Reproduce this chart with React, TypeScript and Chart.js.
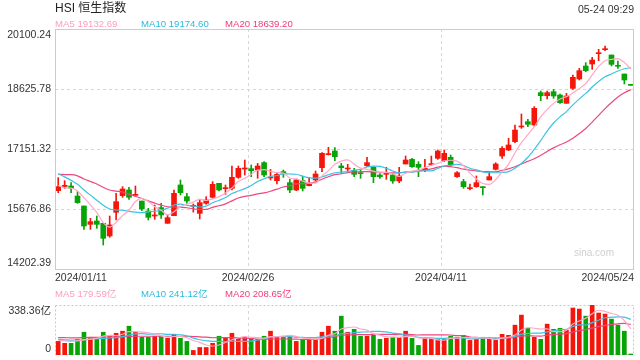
import React, { useEffect, useRef } from "react";
import { Chart, registerables } from "chart.js";
Chart.register(...registerables);

const dates = [
  "2024/01/11","2024/01/12","2024/01/15","2024/01/16","2024/01/17","2024/01/18","2024/01/19","2024/01/22","2024/01/23","2024/01/24",
  "2024/01/25","2024/01/26","2024/01/29","2024/01/30","2024/01/31","2024/02/01","2024/02/02","2024/02/05","2024/02/06","2024/02/07",
  "2024/02/08","2024/02/09","2024/02/14","2024/02/15","2024/02/16","2024/02/19","2024/02/20","2024/02/21","2024/02/22","2024/02/23",
  "2024/02/26","2024/02/27","2024/02/28","2024/02/29","2024/03/01","2024/03/04","2024/03/05","2024/03/06","2024/03/07","2024/03/08",
  "2024/03/11","2024/03/12","2024/03/13","2024/03/14","2024/03/15","2024/03/18","2024/03/19","2024/03/20","2024/03/21","2024/03/22",
  "2024/03/25","2024/03/26","2024/03/27","2024/03/28","2024/04/02","2024/04/03","2024/04/05","2024/04/08","2024/04/09","2024/04/10",
  "2024/04/11","2024/04/12","2024/04/15","2024/04/16","2024/04/17","2024/04/18","2024/04/19","2024/04/22","2024/04/23","2024/04/24",
  "2024/04/25","2024/04/26","2024/04/29","2024/04/30","2024/05/02","2024/05/03","2024/05/06","2024/05/07","2024/05/08","2024/05/09",
  "2024/05/10","2024/05/13","2024/05/14","2024/05/16","2024/05/17","2024/05/20","2024/05/21","2024/05/22","2024/05/23","2024/05/24"
];

const opens = [
  16127,16230,16242,15996,15751,15300,15382,15325,15014,15595,
  16005,16144,16013,15873,15628,15505,15710,15325,15513,16267,
  15980,15740,15570,15816,15964,16308,16177,16185,16455,16660,
  16668,16635,16816,16439,16373,16594,16324,16144,16373,16250,
  16390,16693,17012,17102,16734,16660,16619,16562,16742,16701,
  16512,16529,16512,16365,16783,16897,16775,16635,16766,16922,
  16865,16947,16472,16349,16177,16226,16218,16390,16652,16979,
  17127,17332,17692,17823,17741,18536,18462,18560,18478,18274,
  18642,18872,19191,19240,19494,19592,19461,19199,18994,18724
];
const highs = [
  16447,16373,16324,16103,15751,15448,15505,15325,15505,16062,
  16226,16209,16242,15873,15693,15775,15816,15530,16144,16390,
  16062,15800,15898,15980,16349,16308,16267,16734,16734,16881,
  16758,16799,16840,16652,16553,16635,16406,16406,16488,16455,
  16611,17061,17192,17184,16799,16775,16676,16652,16947,16717,
  16570,16701,16553,16701,16979,16922,16840,16897,16979,17127,
  17127,17004,16594,16406,16291,16488,16226,16594,16815,17209,
  17414,17741,18012,17880,18192,18577,18577,18618,18503,18519,
  18970,19134,19273,19404,19601,19683,19461,19314,18994,18724
];
const lows = [
  16078,16185,16078,15816,15177,15177,15202,14792,14981,15407,
  15964,15915,15996,15636,15407,15423,15448,15325,15513,16021,
  15816,15600,15431,15792,15939,16119,16037,16144,16430,16512,
  16472,16431,16472,16390,16291,16455,16078,16127,16119,16242,
  16373,16594,17004,16865,16553,16619,16472,16431,16717,16324,
  16431,16406,16308,16324,16783,16701,16472,16594,16758,16897,
  16840,16717,16455,16185,16144,16209,16021,16390,16635,16922,
  17111,17307,17659,17700,17717,18339,18380,18396,18274,18274,
  18618,18847,19052,19109,19322,19568,19191,19134,18749,18716
];
const closes = [
  16226,16260,16185,15833,15259,15366,15300,14956,15284,15857,
  16168,15964,16029,15677,15472,15530,15530,15464,16062,16078,
  15873,15746,15833,15898,16283,16144,16193,16455,16676,16685,
  16619,16734,16512,16463,16529,16553,16144,16390,16185,16291,
  16537,17045,17037,16963,16693,16676,16529,16545,16816,16472,
  16472,16578,16365,16488,16881,16717,16701,16676,16791,17102,
  17045,16758,16570,16226,16193,16324,16201,16472,16783,17168,
  17250,17618,17717,17758,18151,18462,18536,18454,18290,18454,
  18913,19076,19076,19338,19511,19609,19232,19183,18847,18716
];
const ma5 = [
  16254.6,16199.6,16191.8,16120.4,15952.6,15780.6,15588.6,15342.8,15233,15352.6,
  15513,15645.8,15860.4,15939,15862,15734.4,15647.6,15534.6,15611.6,15732.8,
  15801.4,15844.6,15918.4,15885.6,15926.6,15980.8,16070.2,16194.6,16350.2,16430.6,
  16525.6,16633.8,16645.2,16602.6,16571.4,16558.2,16440.2,16415.8,16360.2,16312.6,
  16309.4,16489.6,16619,16774.6,16855,16882.8,16779.6,16681.2,16651.8,16607.6,
  16566.8,16576.6,16540.6,16475,16556.8,16605.8,16630.4,16692.6,16753.2,16797.4,
  16863,16874.4,16853.2,16740.2,16558.4,16414.2,16302.8,16283.2,16394.6,16589.6,
  16774.8,17058.2,17307.2,17502.2,17698.8,17941.2,18124.8,18272.2,18378.6,18439.2,
  18529.4,18637.4,18761.8,18971.4,19182.8,19322,19353.2,19374.6,19276.4,19117.4
];
const ma10 = [
  16544.3,16466,16379.8,16284.2,16145.5,16017.6,15894.1,15767.3,15676.7,15652.6,
  15646.8,15617.2,15601.6,15586,15607.3,15623.7,15646.7,15697.5,15775.3,15797.4,
  15767.9,15746.1,15726.5,15748.6,15829.7,15891.1,15957.4,16056.5,16117.9,16178.6,
  16253.2,16352,16419.9,16476.4,16501,16541.9,16537,16530.5,16481.4,16442,
  16433.8,16464.9,16517.4,16567.4,16583.8,16596.1,16634.6,16650.1,16713.2,16731.3,
  16724.8,16678.1,16610.9,16563.4,16582.2,16586.3,16603.5,16616.6,16614.1,16677.1,
  16734.4,16752.4,16772.9,16746.7,16677.9,16638.6,16588.6,16568.2,16567.4,16574,
  16594.5,16680.5,16795.2,16948.4,17144.2,17358,17591.5,17789.7,17940.4,18069,
  18235.3,18381.1,18517,18675,18811,18925.7,18995.3,19068.2,19123.9,19150.1
];
const ma20 = [
  16528.7,16523,16520.8,16492.4,16415.7,16352.6,16292.3,16209.4,16142.6,16118.4,
  16095.6,16041.6,15990.7,15935.1,15876.4,15820.7,15770.4,15732.4,15726,15725,
  15707.4,15681.7,15664.1,15667.3,15718.5,15757.4,15802.1,15877,15946.6,15988,
  16010.6,16049.1,16073.2,16112.5,16165.4,16216.5,16247.2,16293.5,16299.7,16310.3,
  16343.5,16408.5,16468.7,16521.9,16542.4,16569,16585.8,16590.3,16597.3,16586.7,
  16579.3,16571.5,16564.2,16565.4,16583,16591.2,16619.1,16633.4,16663.7,16704.2,
  16729.6,16715.3,16691.9,16655.1,16630.1,16612.5,16596.1,16592.4,16590.8,16625.6,
  16664.5,16716.5,16784.1,16847.6,16911.1,16998.3,17090.1,17179,17253.9,17321.5,
  17414.9,17530.8,17656.1,17811.7,17977.6,18141.9,18293.4,18429,18532.2,18609.6
];
const volumes = [
  92,79,79,106,154,120,106,154,133,147,
  161,195,154,120,120,127,127,113,140,113,
  92,31,51,51,79,127,113,147,113,120,
  106,106,127,161,120,127,127,92,106,106,
  106,154,195,161,263,154,174,127,127,140,
  106,113,120,120,161,113,65,113,113,106,
  106,127,120,133,99,106,120,106,99,140,
  133,202,270,181,120,106,209,174,181,168,
  318,311,263,338.36,284,277,243,202,161,3
];
const volMa5 = [
  100,96,92,95,102,107.6,113,128,133.4,132,
  140.2,158,158,155.4,150,143.2,129.6,121.4,125.4,124,
  117,97.8,85.4,67.6,60.8,67.8,84.2,103.4,115.8,124,
  119.8,118.4,114.4,124,124,128.2,132.4,125.4,114.4,111.6,
  107.4,112.8,133.4,144.4,175.8,185.4,189.4,175.8,169,144.4,
  134.8,122.6,121.2,119.8,124,125.4,115.8,114.4,113,102,
  100.6,113,114.4,118.4,117,117,115.6,112.8,106,114.2,
  119.6,136,168.8,185.2,181.2,175.8,177.2,158,158,167.6,
  210,230.4,248.2,279.6,302.8,294.6,281,268.8,233.4,177.2
];
const volMa10 = [
  106,103,100,100,104,107,110,113,115,117,
  123.9,135.5,143,144.4,141,141.7,143.8,139.7,140.4,137,
  130.1,113.7,103.4,96.5,92.4,92.4,91,94.4,91.7,92.4,
  93.8,101.3,108.9,119.9,124,124,125.4,119.9,119.2,117.8,
  117.8,122.6,129.4,129.4,143.7,146.4,151.1,154.6,156.7,160.1,
  160.1,156,148.5,144.4,134.2,130.1,119.2,117.8,116.4,113,
  113,114.4,114.4,115.7,109.5,108.8,114.3,113.6,112.2,115.6,
  118.3,125.8,140.8,145.6,147.7,147.7,156.6,163.4,171.6,174.4,
  192.9,203.8,203.1,218.8,235.2,252.3,255.7,258.5,256.5,240
];
const volMa20 = [
  118,117,116,116,118,119,119,121,122,123,
  124,126,127,127,127,127,127,126,127,127,
  127,124.6,123.2,120.5,116.7,117,117.4,117,116,114.7,
  112,107.5,106.2,108.2,108.2,108.2,108.2,107.2,105.5,105.1,
  105.8,112,119.2,124.7,133.9,135.2,138.3,137.3,138,139,
  139,139.3,139,136.9,139,138.3,135.2,136.2,136.6,136.6,
  136.6,135.2,131.5,130.1,121.9,119.5,116.8,115.7,114.3,114.3,
  115.7,120.1,127.6,130.7,128.6,128.3,135.5,138.5,141.9,145,
  155.6,164.8,172,182.2,191.5,200,206.2,211,214,207.2
];

const yTicks = [20100.24, 18625.78, 17151.32, 15676.86, 14202.39];
const yTickLabels = ["20100.24", "18625.78", "17151.32", "15676.86", "14202.39"];
const volMax = 338.36;
const volTickLabels = ["338.36亿", "0"];
const xTickIdx = [0, 30, 60, 89];
const gridIdx = [30, 60];
const maNames = ["MA5", "MA10", "MA20"];
const mainMaLast = ["19132.69", "19174.60", "18639.20"];
const volMaLast = ["179.59亿", "241.12亿", "208.65亿"];
const title = "HSI 恒生指数";
const timeText = "05-24 09:29";

const RED = "#f5160b";
const GREEN = "#07a307";
const MA_LINE = ["#ffa8c5", "#3cc3e4", "#ee477d"];
const MA_TEXT = ["#ff9cbd", "#2ab9e0", "#ee3d77"];
const FONT = '"Liberation Sans", Arial, "Noto Sans CJK SC", sans-serif';

const candleColors = closes.map((c, i) => (c >= opens[i] ? RED : GREEN));

function halfStep(x: any) {
  return (x.getPixelForValue(1) - x.getPixelForValue(0)) / 2;
}

const mainDecor = {
  id: "mainDecor",
  beforeDatasetsDraw(chart: any) {
    const { ctx, chartArea: a, scales } = chart;
    const x = scales.x, y = scales.y;
    ctx.save();
    ctx.lineWidth = 1;
    ctx.strokeStyle = "#d6d6d6";
    ctx.setLineDash([3, 3]);
    yTicks.slice(1, -1).forEach((v) => {
      const py = Math.round(y.getPixelForValue(v)) + 0.5;
      ctx.beginPath();
      ctx.moveTo(a.left, py);
      ctx.lineTo(a.right, py);
      ctx.stroke();
    });
    const h = halfStep(x);
    gridIdx.forEach((i) => {
      const px = Math.round(x.getPixelForValue(i) - h) + 0.5;
      ctx.beginPath();
      ctx.moveTo(px, a.top);
      ctx.lineTo(px, a.bottom);
      ctx.stroke();
    });
    ctx.setLineDash([]);
    ctx.fillStyle = "#cfcfcf";
    ctx.font = "10px " + FONT;
    ctx.textAlign = "right";
    ctx.textBaseline = "middle";
    ctx.fillText("sina.com", a.right - 20, a.bottom - 16);
    ctx.restore();
  },
  afterDraw(chart: any) {
    const { ctx, chartArea: a, scales } = chart;
    const x = scales.x, y = scales.y;
    ctx.save();
    ctx.strokeStyle = "#cccccc";
    ctx.lineWidth = 1;
    ctx.strokeRect(Math.round(a.left) + 0.5, Math.round(a.top) + 0.5, Math.round(a.right - a.left) - 1, Math.round(a.bottom - a.top));
    ctx.fillStyle = "#333";
    ctx.font = "10.5px " + FONT;
    ctx.textAlign = "right";
    yTicks.forEach((v, k) => {
      const py = y.getPixelForValue(v);
      if (k === 0) { ctx.textBaseline = "top"; ctx.fillText(yTickLabels[k], a.left - 4, py + 1); }
      else if (k === yTicks.length - 1) { ctx.textBaseline = "bottom"; ctx.fillText(yTickLabels[k], a.left - 4, py - 1); }
      else { ctx.textBaseline = "middle"; ctx.fillText(yTickLabels[k], a.left - 4, py); }
    });
    const h = halfStep(x);
    ctx.textBaseline = "middle";
    xTickIdx.forEach((i, k) => {
      let px = x.getPixelForValue(i) - h;
      if (k === 0) { ctx.textAlign = "left"; px = a.left; }
      else if (k === xTickIdx.length - 1) { ctx.textAlign = "right"; px = a.right; }
      else ctx.textAlign = "center";
      ctx.fillText(dates[i], px, a.bottom + 9);
    });
    ctx.restore();
  },
};

const volDecor = {
  id: "volDecor",
  beforeDatasetsDraw(chart: any) {
    const { ctx, chartArea: a, scales } = chart;
    const x = scales.x;
    ctx.save();
    ctx.lineWidth = 1;
    ctx.strokeStyle = "#c9c9c9";
    ctx.setLineDash([2, 2]);
    ctx.strokeRect(Math.round(a.left) + 0.5, Math.round(a.top) + 0.5, Math.round(a.right - a.left) - 1, Math.round(a.bottom - a.top) - 1);
    ctx.strokeStyle = "#d6d6d6";
    ctx.setLineDash([3, 3]);
    const h = halfStep(x);
    gridIdx.forEach((i) => {
      const px = Math.round(x.getPixelForValue(i) - h) + 0.5;
      ctx.beginPath();
      ctx.moveTo(px, a.top);
      ctx.lineTo(px, a.bottom);
      ctx.stroke();
    });
    ctx.restore();
  },
  afterDraw(chart: any) {
    const { ctx, chartArea: a, scales } = chart;
    const y = scales.y;
    ctx.save();
    ctx.fillStyle = "#333";
    ctx.font = "10.5px " + FONT;
    ctx.textAlign = "right";
    ctx.textBaseline = "top";
    ctx.fillText(volTickLabels[0], a.left - 4, y.getPixelForValue(volMax) + 1);
    ctx.textBaseline = "bottom";
    ctx.fillText(volTickLabels[1], a.left - 4, y.getPixelForValue(0) - 1);
    ctx.restore();
  },
};

function lineDs(data: number[], color: string) {
  return {
    type: "line" as const,
    data,
    borderColor: color,
    borderWidth: 1.2,
    pointRadius: 0,
    cubicInterpolationMode: "monotone" as const,
    fill: false,
    order: 0,
  };
}

export default function App() {
  const mainRef = useRef<HTMLCanvasElement>(null);
  const volRef = useRef<HTMLCanvasElement>(null);

  useEffect(() => {
    const main = new Chart(mainRef.current as HTMLCanvasElement, {
      type: "bar",
      data: {
        labels: dates,
        datasets: [
          { type: "bar", data: lows.map((l, i) => [l, highs[i]]), backgroundColor: candleColors, barThickness: 1, grouped: false, order: 2 } as any,
          { type: "bar", data: opens.map((o, i) => [o, closes[i]]), backgroundColor: candleColors, barThickness: 5, minBarLength: 1, grouped: false, order: 1 } as any,
          lineDs(ma5, MA_LINE[0]),
          lineDs(ma10, MA_LINE[1]),
          lineDs(ma20, MA_LINE[2]),
        ],
      },
      options: {
        animation: false,
        responsive: false,
        maintainAspectRatio: false,
        events: [],
        layout: { padding: { left: 55, right: 6, top: 29, bottom: 16 } },
        plugins: { legend: { display: false }, tooltip: { enabled: false } },
        scales: {
          x: { type: "category", display: false, offset: true },
          y: { type: "linear", display: false, min: yTicks[yTicks.length - 1], max: yTicks[0] },
        },
      },
      plugins: [mainDecor],
    } as any);

    const vol = new Chart(volRef.current as HTMLCanvasElement, {
      type: "bar",
      data: {
        labels: dates,
        datasets: [
          { type: "bar", data: volumes, backgroundColor: candleColors, barThickness: 4, minBarLength: 1, grouped: false, order: 1 } as any,
          lineDs(volMa5, MA_LINE[0]),
          lineDs(volMa10, MA_LINE[1]),
          lineDs(volMa20, MA_LINE[2]),
        ],
      },
      options: {
        animation: false,
        responsive: false,
        maintainAspectRatio: false,
        events: [],
        layout: { padding: { left: 55, right: 6, top: 20, bottom: 5 } },
        plugins: { legend: { display: false }, tooltip: { enabled: false } },
        scales: {
          x: { type: "category", display: false, offset: true },
          y: { type: "linear", display: false, min: 0, max: volMax },
        },
      },
      plugins: [volDecor],
    } as any);

    return () => {
      main.destroy();
      vol.destroy();
    };
  }, []);

  const legendX = [55, 141, 225];
  const txt = (extra: React.CSSProperties): React.CSSProperties => ({
    position: "absolute",
    whiteSpace: "nowrap",
    fontFamily: FONT,
    ...extra,
  });

  return (
    <div style={{ position: "absolute", left: 0, top: 0, width: 640, height: 360, background: "#fff", overflow: "hidden" }}>
      <canvas ref={mainRef} width={640} height={285} style={{ position: "absolute", left: 0, top: 0, width: 640, height: 285 }} />
      <canvas ref={volRef} width={640} height={75} style={{ position: "absolute", left: 0, top: 285, width: 640, height: 75 }} />
      <div style={txt({ left: 55, top: 2, fontSize: 12, lineHeight: "12px", color: "#222" })}>{title}</div>
      <div style={txt({ right: 6, top: 4, fontSize: 10.5, lineHeight: "11px", color: "#333" })}>{timeText}</div>
      {maNames.map((n, k) => (
        <div key={"m" + k} style={txt({ left: legendX[k], top: 19, fontSize: 9.6, lineHeight: "10px", color: MA_TEXT[k] })}>
          {n + " " + mainMaLast[k]}
        </div>
      ))}
      {maNames.map((n, k) => (
        <div key={"v" + k} style={txt({ left: legendX[k], top: 289, fontSize: 9.6, lineHeight: "10px", color: MA_TEXT[k] })}>
          {n + " " + volMaLast[k]}
        </div>
      ))}
    </div>
  );
}
